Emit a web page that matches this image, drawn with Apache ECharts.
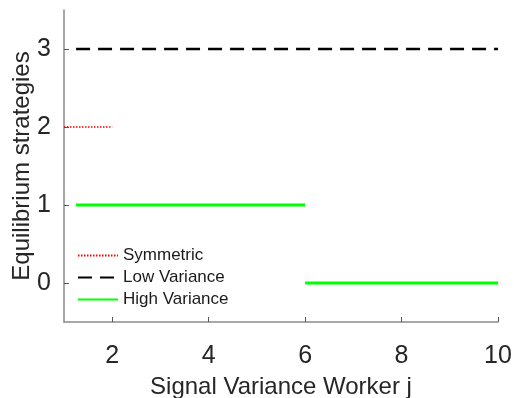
<!DOCTYPE html>
<html>
<head>
<meta charset="utf-8">
<script src="https://cdn.jsdelivr.net/npm/echarts@6/dist/echarts.min.js"></script>
<style>
  html, body {margin: 0; padding: 0; background: #fff;}
  #chart {width: 514px; height: 398px;}
</style>
</head>
<body>
<div id="chart"></div>
<script>
// values
const xTicks = [2, 4, 6, 8, 10];
const yTicks = [0, 1, 2, 3];

const symmetricX = [1, 2];
const symmetricY = [2, 2];

const lowVarX = [1.25, 10];
const lowVarY = [3, 3];

const highVarX1 = [1.25, 2, 6];
const highVarY1 = [1, 1, 1];
const highVarX2 = [6, 10];
const highVarY2 = [0, 0];

const pairs = (xs, ys) => xs.map((x, i) => [x, ys[i]]);

const chart = echarts.init(document.getElementById('chart'));
const font = 'Liberation Sans, Arial, Helvetica, sans-serif';
const axisGrey = '#8a8a8a';

chart.setOption({
  animation: false,
  grid: {left: 64, right: 16, top: 10, bottom: 76, outerBoundsMode: 'none', containLabel: false},
  legend: {
    orient: 'vertical',
    left: 77,
    top: 247,
    itemWidth: 40,
    itemHeight: 14,
    itemGap: 5,
    padding: 0,
    itemStyle: {opacity: 0},
    textStyle: {fontFamily: font, fontSize: 17, color: '#1a1a1a'},
    data: ['Symmetric', 'Low Variance', 'High Variance']
  },
  xAxis: {
    type: 'value',
    min: 1,
    max: 10,
    name: 'Signal Variance Worker j',
    nameLocation: 'middle',
    nameGap: 53,
    nameTextStyle: {fontFamily: font, fontSize: 24, color: '#262626'},
    axisLine: {show: true, onZero: false, lineStyle: {color: axisGrey, width: 1.5}},
    axisTick: {show: true, inside: true, length: 5, customValues: xTicks, lineStyle: {color: '#555'}},
    axisLabel: {
      fontFamily: font, fontSize: 25, color: '#262626', margin: 22,
      customValues: xTicks
    },
    splitLine: {show: false}
  },
  yAxis: {
    type: 'value',
    min: -0.5,
    max: 3.5,
    name: 'Equilibrium strategies',
    nameLocation: 'middle',
    nameGap: 30,
    nameMoveOverlap: false,
    nameTextStyle: {fontFamily: font, fontSize: 24, color: '#262626'},
    axisLine: {show: true, onZero: false, lineStyle: {color: axisGrey, width: 1.5}},
    axisTick: {show: true, inside: true, length: 5, customValues: yTicks, lineStyle: {color: '#555'}},
    axisLabel: {
      fontFamily: font, fontSize: 25, color: '#262626', margin: 13,
      customValues: yTicks
    },
    splitLine: {show: false}
  },
  series: [
    {
      name: 'Symmetric',
      type: 'line',
      symbol: 'none',
      data: pairs(symmetricX, symmetricY),
      lineStyle: {color: '#ff0000', width: 1.5, type: [1.5, 1.5]},
      itemStyle: {color: '#ff0000'},
      z: 3
    },
    {
      name: 'Low Variance',
      type: 'line',
      symbol: 'none',
      data: pairs(lowVarX, lowVarY),
      lineStyle: {color: '#000000', width: 2.5, type: [14, 8]},
      itemStyle: {color: '#000000'}
    },
    {
      name: 'High Variance',
      type: 'line',
      symbol: 'none',
      data: pairs(highVarX1, highVarY1),
      lineStyle: {color: '#00ff00', width: 3},
      itemStyle: {color: '#00ff00'}
    },
    {
      name: 'High Variance',
      type: 'line',
      symbol: 'none',
      data: pairs(highVarX2, highVarY2),
      lineStyle: {color: '#00ff00', width: 3},
      itemStyle: {color: '#00ff00'}
    }
  ]
});
</script>
</body>
</html>
